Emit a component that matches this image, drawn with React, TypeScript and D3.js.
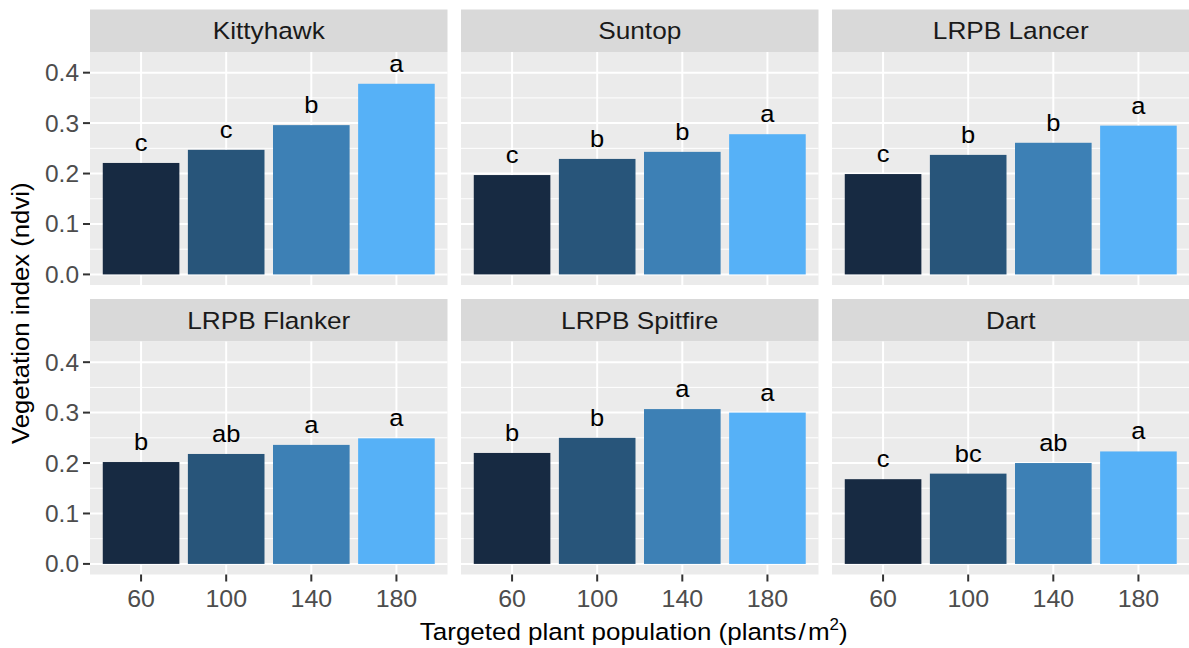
import React from 'react';
import * as d3 from 'd3';

// ---- data ----
const varieties = ['Kittyhawk', 'Suntop', 'LRPB Lancer', 'LRPB Flanker', 'LRPB Spitfire', 'Dart'];
const populations = ['60', '100', '140', '180'];

const kittyhawkNdvi = [0.221, 0.247, 0.296, 0.378];
const suntopNdvi = [0.197, 0.229, 0.243, 0.278];
const lancerNdvi = [0.199, 0.237, 0.261, 0.295];
const flankerNdvi = [0.202, 0.218, 0.236, 0.249];
const spitfireNdvi = [0.220, 0.250, 0.307, 0.300];
const dartNdvi = [0.168, 0.179, 0.200, 0.223];

const kittyhawkLetters = ['c', 'c', 'b', 'a'];
const suntopLetters = ['c', 'b', 'b', 'a'];
const lancerLetters = ['c', 'b', 'b', 'a'];
const flankerLetters = ['b', 'ab', 'a', 'a'];
const spitfireLetters = ['b', 'b', 'a', 'a'];
const dartLetters = ['c', 'bc', 'ab', 'a'];

const yTicks = [0, 0.1, 0.2, 0.3, 0.4];
const yMinorTicks = [0.05, 0.15, 0.25, 0.35];
const fillColors = ['#172A42', '#28557A', '#3D80B5', '#56B1F7'];

const valuesByVariety = [kittyhawkNdvi, suntopNdvi, lancerNdvi, flankerNdvi, spitfireNdvi, dartNdvi];
const lettersByVariety = [kittyhawkLetters, suntopLetters, lancerLetters, flankerLetters, spitfireLetters, dartLetters];

// ---- layout ----
const W = 1189;
const H = 648;
const colX = [90, 461, 832];
const panelW = 357.5;
const stripTop = [9.5, 299];
const stripH = 42.5;
const panelH = 233;
const FONT = "'Liberation Sans', Arial, sans-serif";

function T({ x, y, sx = 1.06, rotate = 0, anchor = 'middle', size, fill, children }: any) {
  return (
    <g transform={`translate(${x},${y}) rotate(${rotate}) scale(${sx},1)`}>
      <text x={0} y={0} textAnchor={anchor} fontSize={size} fill={fill}>{children}</text>
    </g>
  );
}

export default function App() {
  const y = d3.scaleLinear().domain([-0.021, 0.441]).range([panelH, 0]);
  const x = d3.scaleBand<string>().domain(populations).range([0, panelW]).paddingInner(0.1).paddingOuter(0.15);
  const color = d3.scaleOrdinal<string, string>().domain(populations).range(fillColors);
  const fmt = d3.format('.1f');

  return (
    <svg width={W} height={H} style={{ position: 'absolute', left: 0, top: 0, background: '#fff' }} fontFamily={FONT}>
      {varieties.map((name, i) => {
        const col = i % 3;
        const row = Math.floor(i / 3);
        const px = colX[col];
        const sy = stripTop[row];
        const py = sy + stripH;
        const vals = valuesByVariety[i];
        const lets = lettersByVariety[i];
        return (
          <g key={name}>
            <rect x={px} y={sy} width={panelW} height={stripH} fill="#D9D9D9" />
            <T x={px + panelW / 2} y={sy + stripH / 2 + 8.5} size={24.5} sx={1.07} fill="#1A1A1A">{name}</T>
            <g transform={`translate(${px},${py})`}>
              <rect width={panelW} height={panelH} fill="#EBEBEB" />
              {yMinorTicks.map(t => (
                <line key={'m' + t} x1={0} x2={panelW} y1={y(t)} y2={y(t)} stroke="#fff" strokeWidth={1} />
              ))}
              {yTicks.map(t => (
                <line key={'g' + t} x1={0} x2={panelW} y1={y(t)} y2={y(t)} stroke="#fff" strokeWidth={2} />
              ))}
              {populations.map(p => (
                <line key={'v' + p} x1={x(p)! + x.bandwidth() / 2} x2={x(p)! + x.bandwidth() / 2} y1={0} y2={panelH} stroke="#fff" strokeWidth={2} />
              ))}
              {populations.map((p, j) => (
                <rect key={'b' + p} x={x(p)!} y={y(vals[j])} width={x.bandwidth()} height={y(0) - y(vals[j])} fill={color(p)} />
              ))}
              {populations.map((p, j) => (
                <T key={'l' + p} x={x(p)! + x.bandwidth() / 2} y={y(vals[j]) - 12} size={24.5} sx={1.04} fill="#000">{lets[j]}</T>
              ))}
              {col === 0 && yTicks.map(t => (
                <g key={'yt' + t}>
                  <line x1={-7} x2={0} y1={y(t)} y2={y(t)} stroke="#333" strokeWidth={2} />
                  <T x={-11} y={y(t) + 8.5} anchor="end" size={24} sx={1.02} fill="#4D4D4D">{fmt(t)}</T>
                </g>
              ))}
              {row === 1 && populations.map(p => (
                <g key={'xt' + p}>
                  <line x1={x(p)! + x.bandwidth() / 2} x2={x(p)! + x.bandwidth() / 2} y1={panelH} y2={panelH + 7} stroke="#333" strokeWidth={2} />
                  <T x={x(p)! + x.bandwidth() / 2} y={panelH + 32} size={24} sx={1.04} fill="#4D4D4D">{p}</T>
                </g>
              ))}
            </g>
          </g>
        );
      })}
      <T x={(colX[0] + colX[2] + panelW) / 2 - 6} y={640} size={24.5} sx={1.06} fill="#000">
        Targeted plant population (plants<tspan dx={2}>/</tspan><tspan dx={2}>m</tspan><tspan fontSize={16} dy={-10}>2</tspan><tspan dy={10}>)</tspan>
      </T>
      <T x={29} y={(stripTop[0] + stripTop[1] + stripH + panelH + stripH) / 2} rotate={-90} size={24.5} sx={1.05} fill="#000">
        Vegetation index (ndvi)
      </T>
    </svg>
  );
}
